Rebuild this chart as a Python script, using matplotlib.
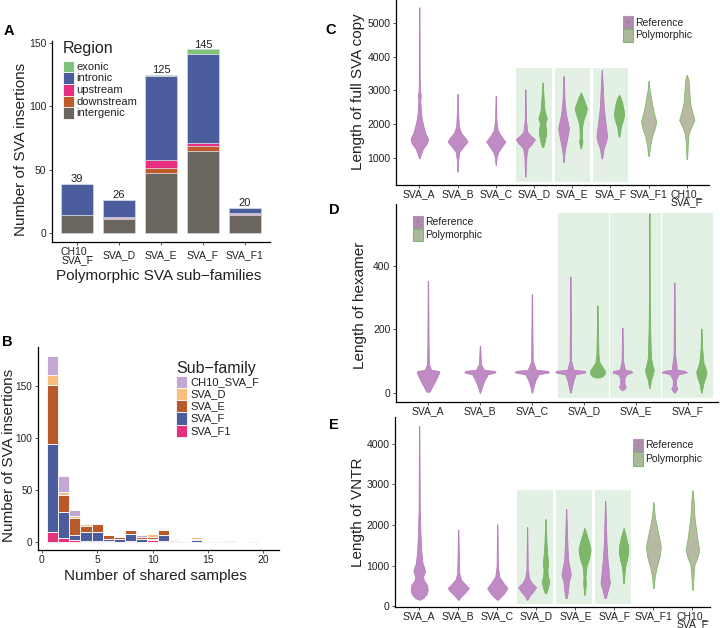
import numpy as np
import matplotlib
matplotlib.use('Agg')
import matplotlib.pyplot as plt
from matplotlib.patches import Rectangle

plt.rcParams['font.family'] = ['Liberation Sans', 'DejaVu Sans']

W, H = 720, 628

# ---------------- Panel A data ----------------
a_families = ['CH10_\nSVA_F', 'SVA_D', 'SVA_E', 'SVA_F', 'SVA_F1']
a_regions = ['exonic', 'intronic', 'upstream', 'downstream', 'intergenic']
a_intergenic = [14, 11, 47, 65, 14]
a_downstream = [0, 1, 4, 4, 1]
a_upstream = [0, 1, 7, 2, 1]
a_intronic = [25, 13, 66, 70, 4]
a_exonic = [0, 0, 1, 4, 0]
a_totals = [39, 26, 125, 145, 20]

# ---------------- Panel B data ----------------
b_shared = list(range(1, 20))
b_subfamilies = ['CH10_SVA_F', 'SVA_D', 'SVA_E', 'SVA_F', 'SVA_F1']
b_F1 = [9, 4, 2, 1, 1, 1, 0, 1, 0, 2, 1, 0, 0, 0, 0, 1, 0, 0, 0]
b_F = [85, 25, 4, 8, 8, 2, 3, 6, 3, 1, 5, 1, 1, 2, 1, 0, 1, 0, 0]
b_E = [57, 16, 17, 6, 8, 3, 2, 4, 2, 2, 5, 1, 0, 1, 0, 0, 1, 0, 1]
b_D = [10, 3, 2, 2, 1, 0, 0, 0, 0, 2, 1, 0, 0, 2, 0, 0, 1, 0, 0]
b_CH10 = [18, 15, 6, 0, 0, 0, 0, 0, 1, 0, 1, 1, 0, 0, 0, 0, 0, 0, 0]

# ---------------- Violin outlines: (value, half-width) ----------------
# Panel C: length of full SVA copy
full_ref_A = [(980, 0.004), (1030, 0.02), (1131, 0.05), (1278, 0.1), (1428, 0.2), (1560, 0.23),
              (1726, 0.16), (1923, 0.11), (2122, 0.07), (2320, 0.045), (2717, 0.026),
              (2866, 0.04), (2960, 0.02), (3214, 0.012), (5476, 0.004)]
full_ref_B = [(584, 0.004), (932, 0.017), (1180, 0.05), (1327, 0.15), (1478, 0.26), (1577, 0.21),
              (1726, 0.1), (1923, 0.035), (2320, 0.017), (2897, 0.004)]
full_ref_C = [(782, 0.004), (1030, 0.026), (1180, 0.07), (1327, 0.16), (1478, 0.25), (1676, 0.12),
              (1825, 0.05), (2122, 0.017), (2848, 0.004)]
full_ref_D = [(435, 0.004), (1030, 0.026), (1278, 0.06), (1428, 0.18), (1547, 0.25), (1676, 0.12),
              (1776, 0.05), (2122, 0.017), (3036, 0.004)]
full_poly_D = [(1310, 0.004), (1327, 0.017), (1428, 0.044), (1577, 0.07), (1726, 0.1), (1874, 0.087),
               (2023, 0.07), (2172, 0.11), (2420, 0.05), (2817, 0.026), (3234, 0.004)]
full_ref_E = [(863, 0.004), (1131, 0.026), (1327, 0.05), (1527, 0.087), (1726, 0.12), (1874, 0.14),
              (2072, 0.105), (2320, 0.06), (2717, 0.026), (3430, 0.004)]
full_poly_E = [(1278, 0.008), (1478, 0.044), (1627, 0.026), (1923, 0.035), (2122, 0.07), (2320, 0.13),
               (2469, 0.16), (2667, 0.1), (2817, 0.05), (2937, 0.004)]
full_ref_F = [(980, 0.008), (1278, 0.05), (1478, 0.11), (1627, 0.14), (1825, 0.12), (2122, 0.087),
              (2518, 0.05), (3114, 0.026), (3609, 0.004)]
full_poly_F = [(1627, 0.008), (1726, 0.026), (1923, 0.05), (2122, 0.105), (2271, 0.135), (2420, 0.12),
               (2617, 0.087), (2767, 0.05), (2867, 0.004)]
full_poly_F1 = [(1050, 0.008), (1327, 0.035), (1627, 0.087), (1874, 0.16), (2072, 0.2), (2320, 0.14),
                (2617, 0.087), (3015, 0.026), (3294, 0.004)]
full_poly_CH10 = [(962, 0.008), (1180, 0.017), (1428, 0.026), (1726, 0.05), (1923, 0.12), (2122, 0.2),
                  (2320, 0.15), (2617, 0.087), (3015, 0.06), (3313, 0.044), (3460, 0.004)]

# Panel D: length of hexamer
hex_ref_A = [(3, 0.03), (19, 0.08), (40, 0.15), (58, 0.2), (64, 0.22), (69, 0.2), (72, 0.06),
             (90, 0.02), (150, 0.012), (352, 0.004)]
hex_ref_B = [(0, 0.005), (19, 0.04), (40, 0.09), (58, 0.15), (64, 0.3), (69, 0.28), (72, 0.08),
             (90, 0.02), (148, 0.004)]
hex_ref_C = [(0, 0.005), (19, 0.03), (40, 0.07), (58, 0.13), (64, 0.33), (69, 0.3), (72, 0.08),
             (100, 0.015), (310, 0.004)]
hex_ref_D = [(0, 0.005), (19, 0.03), (40, 0.06), (58, 0.1), (64, 0.29), (69, 0.27), (72, 0.06),
             (100, 0.015), (365, 0.004)]
hex_poly_D = [(48, 0.04), (52, 0.1), (60, 0.14), (70, 0.14), (80, 0.1), (95, 0.04), (120, 0.02),
              (180, 0.012), (275, 0.004)]
hex_ref_E = [(8, 0.005), (12, 0.04), (19, 0.065), (28, 0.04), (45, 0.04), (58, 0.08), (64, 0.19),
             (69, 0.17), (72, 0.05), (100, 0.015), (205, 0.004)]
hex_poly_E = [(15, 0.005), (40, 0.03), (60, 0.07), (72, 0.085), (85, 0.06), (110, 0.03), (200, 0.015),
              (300, 0.008), (565, 0.004)]
hex_ref_F = [(0, 0.005), (8, 0.04), (14, 0.06), (22, 0.03), (40, 0.03), (58, 0.08), (64, 0.24),
             (69, 0.2), (72, 0.05), (120, 0.015), (347, 0.004)]
hex_poly_F = [(0, 0.005), (30, 0.04), (50, 0.08), (65, 0.1), (75, 0.08), (95, 0.04), (140, 0.015),
              (202, 0.004)]

# Panel E: length of VNTR
vntr_ref_A = [(164, 0.01), (205, 0.1), (300, 0.19), (410, 0.22), (530, 0.2), (640, 0.12), (740, 0.1),
              (860, 0.15), (950, 0.13), (1065, 0.085), (1394, 0.05), (1884, 0.03), (2376, 0.015),
              (4440, 0.004)]
vntr_ref_B = [(164, 0.01), (230, 0.06), (344, 0.18), (450, 0.27), (532, 0.19), (656, 0.07),
              (820, 0.026), (1884, 0.004)]
vntr_ref_C = [(164, 0.01), (205, 0.06), (328, 0.18), (450, 0.26), (573, 0.16), (738, 0.05),
              (983, 0.017), (2023, 0.004)]
vntr_ref_D = [(164, 0.01), (262, 0.06), (369, 0.16), (475, 0.23), (573, 0.12), (697, 0.05),
              (901, 0.017), (1950, 0.004)]
vntr_poly_D = [(328, 0.017), (450, 0.06), (614, 0.1), (738, 0.06), (901, 0.05), (1065, 0.07),
               (1230, 0.05), (1558, 0.026), (2147, 0.004)]
vntr_ref_E = [(205, 0.017), (410, 0.05), (614, 0.07), (779, 0.12), (942, 0.09), (1147, 0.05),
              (1558, 0.03), (2400, 0.004)]
vntr_poly_E = [(287, 0.008), (573, 0.035), (738, 0.026), (983, 0.05), (1189, 0.12), (1394, 0.155),
               (1558, 0.12), (1720, 0.07), (1925, 0.004)]
vntr_ref_F = [(205, 0.017), (410, 0.07), (573, 0.12), (738, 0.1), (901, 0.087), (1147, 0.06),
              (1558, 0.035), (2597, 0.004)]
vntr_poly_F = [(573, 0.008), (820, 0.026), (983, 0.045), (1147, 0.087), (1312, 0.12), (1476, 0.12),
               (1679, 0.07), (1925, 0.004)]
vntr_poly_F1 = [(450, 0.008), (738, 0.035), (983, 0.087), (1230, 0.16), (1476, 0.19), (1720, 0.14),
                (1966, 0.087), (2212, 0.035), (2564, 0.004)]
vntr_poly_CH10 = [(410, 0.008), (738, 0.026), (1024, 0.05), (1189, 0.12), (1394, 0.175), (1558, 0.14),
                  (1802, 0.105), (2212, 0.05), (2540, 0.035), (2851, 0.004)]

cd_categories = ['SVA_A', 'SVA_B', 'SVA_C', 'SVA_D', 'SVA_E', 'SVA_F', 'SVA_F1', 'CH10_\nSVA_F']
d_categories = ['SVA_A', 'SVA_B', 'SVA_C', 'SVA_D', 'SVA_E', 'SVA_F']

# ---------------- colours ----------------
region_colors = {'exonic': '#7fc47a', 'intronic': '#4c5d9e', 'upstream': '#e6307f',
                 'downstream': '#c05a28', 'intergenic': '#6b6560'}
sub_colors = {'CH10_SVA_F': '#c4a8d4', 'SVA_D': '#f9bf80', 'SVA_E': '#b85a2a',
              'SVA_F': '#4c5d9e', 'SVA_F1': '#e6307f'}
REF_FC, REF_EC = '#c08ac4', '#b77fbc'
POLY_FC, POLY_EC = '#7db86a', '#76b562'
ALONE_FC, ALONE_EC = '#b8b9a2', '#7dbb66'
SHADE = '#e3f1e5'
TXT = '#222222'

fig = plt.figure(figsize=(W / 100, H / 100), dpi=100)


def add_ax(l, t, r, b):
    return fig.add_axes([l / W, 1 - b / H, (r - l) / W, (b - t) / H])


def ftext(x, y, s, **kw):
    fig.text(x / W, 1 - y / H, s, **kw)


def frect(x0, y0, x1, y1, **kw):
    fig.add_artist(Rectangle((x0 / W, 1 - y1 / H), (x1 - x0) / W, (y1 - y0) / H,
                             transform=fig.transFigure, **kw))


def style(ax):
    for s in ['top', 'right']:
        ax.spines[s].set_visible(False)
    for s in ['left', 'bottom']:
        ax.spines[s].set_color('black')
        ax.spines[s].set_linewidth(0.9)
    ax.tick_params(length=2.5, width=0.6, labelsize=7.5, labelcolor=TXT, pad=1.5, colors='#333333')
    ax.set_facecolor('none')


# ================= Panel A =================
axA = add_ax(52, 40.5, 270, 242)
style(axA)
xa = np.arange(1, 6)
bottom = np.zeros(5)
for name, vals in [('intergenic', a_intergenic), ('downstream', a_downstream),
                   ('upstream', a_upstream), ('intronic', a_intronic), ('exonic', a_exonic)]:
    axA.bar(xa, vals, bottom=bottom, width=0.76, color=region_colors[name],
            edgecolor='#d3d8e4', linewidth=0.5)
    bottom += np.array(vals)
for x, t in zip(xa, a_totals):
    axA.text(x, t - 0.3, str(t), ha='center', va='bottom', fontsize=8, color=TXT)
axA.set_xlim(0.4, 5.6)
axA.set_ylim(-7.1, 152)
axA.set_yticks([0, 50, 100, 150])
axA.set_xticks(xa)
axA.set_xticklabels(a_families, linespacing=0.95)
axA.tick_params(axis='x', pad=7.2)
for lab in axA.get_xticklabels():
    lab.set_va('center')
ftext(21.5, 149, 'Number of SVA insertions', rotation=90, ha='center', va='center', fontsize=11, color=TXT)
ftext(159, 276, 'Polymorphic SVA sub\u2212families', ha='center', va='center', fontsize=11, color=TXT)
ftext(63, 48, 'Region', ha='left', va='center', fontsize=11.5, color=TXT)
for i, name in enumerate(a_regions):
    y0 = 60.7 + i * 11.7
    frect(63, y0, 74, y0 + 11.7, facecolor=region_colors[name], edgecolor='white', linewidth=0.6)
    ftext(76.5, y0 + 5.85, name, ha='left', va='center', fontsize=8, color=TXT)

# ================= Panel B =================
axB = add_ax(38, 346.6, 279, 550)
style(axB)
axB.tick_params(axis='y', labelsize=7.2)
axB.tick_params(axis='x', pad=0.8)
xb = np.array(b_shared)
bottom = np.zeros(len(xb))
for name, vals in [('SVA_F1', b_F1), ('SVA_F', b_F), ('SVA_E', b_E), ('SVA_D', b_D), ('CH10_SVA_F', b_CH10)]:
    v = np.array(vals, dtype=float)
    axB.bar(xb, v, bottom=bottom, width=1.0, color=sub_colors[name], edgecolor='white', linewidth=0.6)
    bottom += v
axB.set_xlim(-0.33, 21.4)
axB.set_ylim(-8, 188)
axB.set_xticks([0, 5, 10, 15, 20])
axB.set_yticks([0, 50, 100, 150])
ftext(9, 455, 'Number of SVA insertions', rotation=90, ha='center', va='center', fontsize=11, color=TXT)
ftext(155, 576, 'Number of shared samples', ha='center', va='center', fontsize=11, color=TXT)
ftext(176, 368, 'Sub\u2212family', ha='left', va='center', fontsize=11.5, color=TXT)
for i, name in enumerate(b_subfamilies):
    y0 = 376 + i * 12.15
    frect(176, y0, 187, y0 + 12.15, facecolor=sub_colors[name], edgecolor='white', linewidth=0.6)
    ftext(190.5, y0 + 6.1, name, ha='left', va='center', fontsize=8, color=TXT)


# ================= Violin helpers =================
def violin(ax, pos, outline, fc, ec):
    v = np.array([p[0] for p in outline], dtype=float)
    w = np.array([p[1] for p in outline], dtype=float)
    ax.fill_betweenx(v, pos - w, pos + w, facecolor=fc, edgecolor=ec, linewidth=0.6, zorder=3)


def vlegend(x, y_ref, y_poly, h):
    frect(x, y_ref, x + 10, y_ref + h, facecolor='#ad8cab', edgecolor=REF_FC, linewidth=0.8)
    frect(x, y_poly, x + 10, y_poly + h, facecolor='#adb89d', edgecolor=POLY_FC, linewidth=0.8)
    ftext(x + 5, y_ref + h / 2, '\u2022', ha='center', va='center', fontsize=4, color='#8e6a8e')
    ftext(x + 5, y_poly + h / 2, '\u2022', ha='center', va='center', fontsize=4, color='#93a57f')
    ftext(x + 12.5, y_ref + h / 2, 'Reference', ha='left', va='center', fontsize=7.5, color=TXT)
    ftext(x + 12.5, y_poly + h / 2, 'Polymorphic', ha='left', va='center', fontsize=7.5, color=TXT)


# ================= Panel C =================
axC = add_ax(396, 0, 709, 185)
style(axC)
off = 0.225
for i in [4, 5, 6]:
    axC.add_patch(Rectangle((i - 0.46, 277), 0.92, 3670 - 277, facecolor=SHADE, edgecolor='none', zorder=0))
violin(axC, 1, full_ref_A, REF_FC, REF_EC)
violin(axC, 2, full_ref_B, REF_FC, REF_EC)
violin(axC, 3, full_ref_C, REF_FC, REF_EC)
violin(axC, 4 - off, full_ref_D, REF_FC, REF_EC)
violin(axC, 4 + off, full_poly_D, POLY_FC, POLY_EC)
violin(axC, 5 - off, full_ref_E, REF_FC, REF_EC)
violin(axC, 5 + off, full_poly_E, POLY_FC, POLY_EC)
violin(axC, 6 - off, full_ref_F, REF_FC, REF_EC)
violin(axC, 6 + off, full_poly_F, POLY_FC, POLY_EC)
violin(axC, 7, full_poly_F1, ALONE_FC, ALONE_EC)
violin(axC, 8, full_poly_CH10, ALONE_FC, ALONE_EC)
axC.set_xlim(0.39, 8.58)
axC.set_ylim(187, 5693)
axC.set_yticks([1000, 2000, 3000, 4000, 5000])
axC.set_xticks(np.arange(1, 9))
axC.set_xticklabels(cd_categories, linespacing=0.72)
axC.tick_params(axis='x', pad=0.5)
ftext(358, 92, 'Length of full SVA copy', rotation=90, ha='center', va='center', fontsize=11, color=TXT)
vlegend(623, 16, 29, 13)

# ================= Panel D =================
axD = add_ax(396, 204.4, 718, 401.7)
style(axD)
offd = 0.26
for i in [4, 5, 6]:
    axD.add_patch(Rectangle((i - 0.49, -16), 0.98, 567 + 16, facecolor=SHADE, edgecolor='none', zorder=0))
violin(axD, 1, hex_ref_A, REF_FC, REF_EC)
violin(axD, 2, hex_ref_B, REF_FC, REF_EC)
violin(axD, 3, hex_ref_C, REF_FC, REF_EC)
violin(axD, 4 - offd, hex_ref_D, REF_FC, REF_EC)
violin(axD, 4 + offd, hex_poly_D, POLY_FC, POLY_EC)
violin(axD, 5 - offd, hex_ref_E, REF_FC, REF_EC)
violin(axD, 5 + offd, hex_poly_E, POLY_FC, POLY_EC)
violin(axD, 6 - offd, hex_ref_F, REF_FC, REF_EC)
violin(axD, 6 + offd, hex_poly_F, POLY_FC, POLY_EC)
axD.set_xlim(0.385, 6.58)
axD.set_ylim(-28.3, 593)
axD.set_yticks([0, 200, 400])
axD.set_xticks(np.arange(1, 7))
axD.set_xticklabels(d_categories)
axD.tick_params(axis='x', pad=0.5)
ftext(360, 305, 'Length of hexamer', rotation=90, ha='center', va='center', fontsize=11, color=TXT)
vlegend(413, 216, 228.5, 12.5)

# ================= Panel E =================
axE = add_ax(395, 417, 710, 607)
style(axE)
offe = 0.235
for i in [4, 5, 6]:
    axE.add_patch(Rectangle((i - 0.5, 66), 0.92, 2867 - 66, facecolor=SHADE, edgecolor='none', zorder=0))
violin(axE, 1, vntr_ref_A, REF_FC, REF_EC)
violin(axE, 2, vntr_ref_B, REF_FC, REF_EC)
violin(axE, 3, vntr_ref_C, REF_FC, REF_EC)
violin(axE, 4 - offe, vntr_ref_D, REF_FC, REF_EC)
violin(axE, 4 + offe, vntr_poly_D, POLY_FC, POLY_EC)
violin(axE, 5 - offe, vntr_ref_E, REF_FC, REF_EC)
violin(axE, 5 + offe, vntr_poly_E, POLY_FC, POLY_EC)
violin(axE, 6 - offe, vntr_ref_F, REF_FC, REF_EC)
violin(axE, 6 + offe, vntr_poly_F, POLY_FC, POLY_EC)
violin(axE, 7, vntr_poly_F1, ALONE_FC, ALONE_EC)
violin(axE, 8, vntr_poly_CH10, ALONE_FC, ALONE_EC)
axE.set_xlim(0.38, 8.45)
axE.set_ylim(-15, 4660)
axE.set_yticks([0, 1000, 2000, 3000, 4000])
axE.set_xticks(np.arange(1, 9))
axE.set_xticklabels(cd_categories, linespacing=0.72)
axE.tick_params(axis='x', pad=0.5)
ftext(358, 512, 'Length of VNTR', rotation=90, ha='center', va='center', fontsize=11, color=TXT)
vlegend(633, 438.5, 452, 13.5)

# ================= Panel letters =================
for lab, x, y in [('A', 8.5, 31), ('B', 7, 342), ('C', 331, 30), ('D', 334, 210), ('E', 334, 425)]:
    ftext(x, y, lab, ha='center', va='center', fontsize=10.5, fontweight='bold', color='black')

fig.savefig('out.png', dpi=100)
